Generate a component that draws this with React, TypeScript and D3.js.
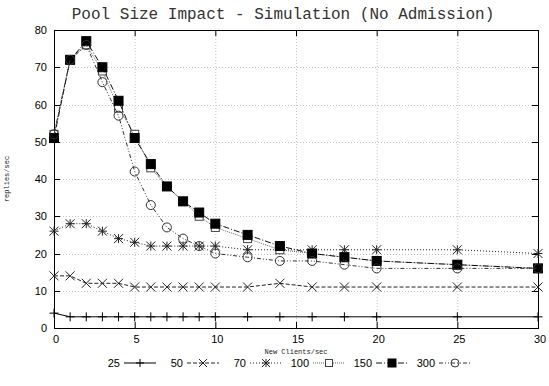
import React from "react";
import * as d3 from "d3";

const xValues = [0, 1, 2, 3, 4, 5, 6, 7, 8, 9, 10, 12, 14, 16, 18, 20, 25, 30];
const pool25 = [4, 3, 3, 3, 3, 3, 3, 3, 3, 3, 3, 3, 3, 3, 3, 3, 3, 3];
const pool50 = [14, 14, 12, 12, 12, 11, 11, 11, 11, 11, 11, 11, 12, 11, 11, 11, 11, 11];
const pool70 = [26, 28, 28, 26, 24, 23, 22, 22, 22, 22, 22, 21, 21, 21, 21, 21, 21, 20];
const pool100 = [52, 72, 76, 69, 59, 52, 43, 38, 34, 30, 27, 24, 21, 20, 19, 18, 17, 16];
const pool150 = [51, 72, 77, 70, 61, 51, 44, 38, 34, 31, 28, 25, 22, 20, 19, 18, 17, 16];
const pool300 = [52, 72, 76, 66, 57, 42, 33, 27, 24, 22, 20, 19, 18, 18, 17, 16, 16, 16];
const seriesNames = ["25", "50", "70", "100", "150", "300"];
const xTicks = [0, 5, 10, 15, 20, 25, 30];
const yTicks = [0, 10, 20, 30, 40, 50, 60, 70, 80];

const W = 549, H = 386;
const L = 54, R = 538, T = 30, B = 328;

type Style = { dash: string; color: string; marker: string };
const styles: Style[] = [
  { dash: "", color: "#000", marker: "plus" },
  { dash: "4,2", color: "#222", marker: "x" },
  { dash: "1,2", color: "#222", marker: "star" },
  { dash: "1,1", color: "#666", marker: "osquare" },
  { dash: "6,2,1,2", color: "#111", marker: "fsquare" },
  { dash: "4,2,1,2,1,2", color: "#333", marker: "circle" },
];

function Marker({ kind, x, y, color, s = 4.5 }: { kind: string; x: number; y: number; color: string; s?: number }) {
  switch (kind) {
    case "plus":
      return (
        <g stroke={color} strokeWidth={1}>
          <line x1={x - s} x2={x + s} y1={y} y2={y} />
          <line x1={x} x2={x} y1={y - s} y2={y + s} />
        </g>
      );
    case "x":
      return (
        <g stroke={color} strokeWidth={1}>
          <line x1={x - s} x2={x + s} y1={y - s} y2={y + s} />
          <line x1={x - s} x2={x + s} y1={y + s} y2={y - s} />
        </g>
      );
    case "star":
      return (
        <g stroke={color} strokeWidth={1}>
          <line x1={x - s} x2={x + s} y1={y - s} y2={y + s} />
          <line x1={x - s} x2={x + s} y1={y + s} y2={y - s} />
          <line x1={x - s} x2={x + s} y1={y} y2={y} />
          <line x1={x} x2={x} y1={y - s} y2={y + s} />
        </g>
      );
    case "osquare":
      return <rect x={x - s + 0.5} y={y - s + 0.5} width={2 * s - 1} height={2 * s - 1} fill="#fff" stroke="#444" strokeWidth={1} />;
    case "fsquare":
      return <rect x={x - s} y={y - s} width={2 * s} height={2 * s} fill="#000" stroke="#000" strokeWidth={1} />;
    case "circle":
      return <circle cx={x} cy={y} r={s} fill="none" stroke={color} strokeWidth={1} />;
  }
  return null;
}

export default function App() {
  const x = d3.scaleLinear().domain([0, 30]).range([L, R]);
  const y = d3.scaleLinear().domain([0, 80]).range([B, T]);
  const all = [pool25, pool50, pool70, pool100, pool150, pool300];
  const line = d3
    .line<number>()
    .x((_, i) => x(xValues[i]))
    .y((d) => y(d));

  const legendMarkers = [140, 203, 266, 329, 392, 455];
  const legendY = 363;

  return (
    <svg width={W} height={H} style={{ position: "absolute", left: 0, top: 0, background: "#fff" }}>
      <rect width={W} height={H} fill="#fff" />
      <text x={283} y={19} fontFamily="Liberation Mono, DejaVu Sans Mono, monospace" fontSize={16} textAnchor="middle" fill="#333">
        Pool Size Impact - Simulation (No Admission)
      </text>
      {/* grid */}
      <g stroke="#c4c4c4" strokeWidth={1} strokeDasharray="1,2">
        {xTicks.slice(1, -1).map((t) => (
          <line key={"gx" + t} x1={x(t) + 0.5} x2={x(t) + 0.5} y1={T} y2={B} />
        ))}
        {yTicks.slice(1, -1).map((t) => (
          <line key={"gy" + t} x1={L} x2={R} y1={Math.round(y(t)) + 0.5} y2={Math.round(y(t)) + 0.5} />
        ))}
      </g>
      {/* ticks */}
      <g stroke="#000" strokeWidth={1}>
        {xTicks.map((t) => (
          <g key={"tx" + t}>
            <line x1={x(t) + 0.5} x2={x(t) + 0.5} y1={B} y2={B - 6} />
            <line x1={x(t) + 0.5} x2={x(t) + 0.5} y1={T} y2={T + 6} />
          </g>
        ))}
        {yTicks.map((t) => (
          <g key={"ty" + t}>
            <line x1={L} x2={L + 6} y1={Math.round(y(t)) + 0.5} y2={Math.round(y(t)) + 0.5} />
            <line x1={R} x2={R - 6} y1={Math.round(y(t)) + 0.5} y2={Math.round(y(t)) + 0.5} />
          </g>
        ))}
      </g>
      <rect x={L + 0.5} y={T + 0.5} width={R - L} height={B - T} fill="none" stroke="#000" strokeWidth={1} />
      {/* tick labels */}
      <g fontFamily="Liberation Sans, Arial, sans-serif" fontSize={11} fill="#000">
        {xTicks.map((t) => (
          <text key={"lx" + t} x={x(t) + 2} y={343} textAnchor="middle">
            {t}
          </text>
        ))}
        {yTicks.map((t) => (
          <text key={"ly" + t} x={47} y={y(t) + 4} textAnchor="end">
            {t}
          </text>
        ))}
      </g>
      <text x={296} y={354} fontFamily="Liberation Mono, monospace" fontSize={7} textAnchor="middle" fill="#222">
        New Clients/sec
      </text>
      <text
        transform={`translate(9,${(T + B) / 2}) rotate(-90)`}
        fontFamily="Liberation Mono, monospace"
        fontSize={7}
        textAnchor="middle"
        fill="#222"
      >
        replies/sec
      </text>
      {/* series */}
      {all.map((vals, si) => (
        <g key={"s" + si}>
          <path d={line(vals) || ""} fill="none" stroke={styles[si].color} strokeWidth={1} strokeDasharray={styles[si].dash} />
          {vals.map((v, i) => (
            <Marker key={i} kind={styles[si].marker} x={x(xValues[i])} y={y(v)} color={styles[si].color} />
          ))}
        </g>
      ))}
      {/* legend */}
      {seriesNames.map((name, i) => {
        const mx = legendMarkers[i];
        return (
          <g key={"lg" + i}>
            <text x={mx - 20} y={legendY + 4} fontFamily="Liberation Sans, Arial, sans-serif" fontSize={11} textAnchor="end" fill="#000">
              {name}
            </text>
            <line x1={mx - 16} x2={mx + 16} y1={legendY} y2={legendY} stroke={styles[i].color} strokeWidth={1} strokeDasharray={styles[i].dash} />
            <Marker kind={styles[i].marker} x={mx} y={legendY} color={styles[i].color} s={4} />
          </g>
        );
      })}
    </svg>
  );
}
